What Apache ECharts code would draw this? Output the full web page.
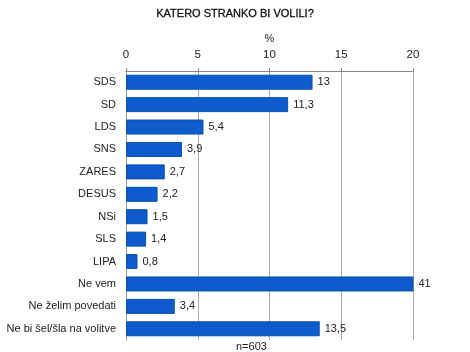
<!DOCTYPE html>
<html>
<head>
<meta charset="utf-8">
<script src="https://cdn.jsdelivr.net/npm/echarts@6/dist/echarts.min.js"></script>
<style>
  html, body { margin: 0; padding: 0; background: #fff; }
  #chart { width: 470px; height: 352px; }
</style>
</head>
<body>
<div id="chart"></div>
<script>
var categories = ['SDS', 'SD', 'LDS', 'SNS', 'ZARES', 'DESUS', 'NSi', 'SLS', 'LIPA', 'Ne vem', 'Ne želim povedati', 'Ne bi šel/šla na volitve'];
var values = [13, 11.3, 5.4, 3.9, 2.7, 2.2, 1.5, 1.4, 0.8, 41, 3.4, 13.5];
var tickMax = 20;

var strankeChart = echarts.init(document.getElementById('chart'));

var option_stranke = {
    animation: false,
    textStyle: { fontFamily: 'Liberation Sans, Arial, sans-serif' },
    title: [{
        text: 'KATERO STRANKO BI VOLILI?',
        left: 'center',
        top: 3,
        textStyle: { fontSize: 11, fontWeight: 'normal', color: '#111', textBorderColor: '#111', textBorderWidth: 0.3 }
    }, {
        text: 'n=603',
        left: 231,
        top: 336,
        textStyle: { fontSize: 11, fontWeight: 'normal', color: '#222' }
    }],
    grid: { left: 126, right: 57, top: 71, bottom: 12 },
    xAxis: {
        type: 'value',
        position: 'top',
        min: 0,
        max: tickMax,
        interval: 5,
        name: '%',
        nameLocation: 'middle',
        nameGap: 27,
        nameTextStyle: { fontSize: 11, color: '#222' },
        axisLine: { show: true, lineStyle: { color: '#888' } },
        axisTick: { show: true, length: 3, lineStyle: { color: '#888' } },
        axisLabel: { fontSize: 11.5, color: '#222', margin: 10 },
        splitLine: { show: true, lineStyle: { color: '#aaa' } }
    },
    yAxis: {
        type: 'category',
        inverse: true,
        data: categories,
        axisLine: { show: true, lineStyle: { color: '#999' } },
        axisTick: { show: false },
        axisLabel: { fontSize: 11, color: '#222', margin: 10 }
    },
    series: [{
        type: 'bar',
        data: values,
        barWidth: 15,
        clip: true,
        itemStyle: { color: '#0d5bcc', borderColor: '#0a4fb3', borderWidth: 1 },
        label: {
            show: true,
            position: 'right',
            distance: 5,
            fontSize: 11,
            color: '#222',
            formatter: function (p) { return String(values[p.dataIndex]).replace('.', ','); }
        }
    }]
};
strankeChart.setOption(option_stranke);

window.addEventListener('resize', strankeChart.resize);
</script>
</body>
</html>
